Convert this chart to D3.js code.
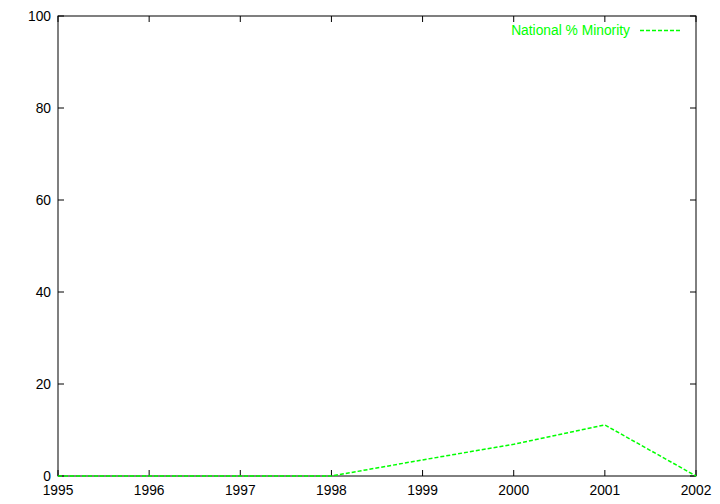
<!DOCTYPE html>
<html><head><meta charset="utf-8">
<script src="https://cdn.jsdelivr.net/npm/d3@7"></script>
<style>body{margin:0;background:#fff}svg{display:block}text{font-family:"Liberation Sans",Arial,Helvetica,sans-serif;font-size:13.8px;fill:#000}</style>
</head><body>
<script>
const years = [1995, 1996, 1997, 1998, 1999, 2000, 2001, 2002];
const minority = [0, 0, 0, 0, 3.5, 6.9, 11.1, 0];
const yTicks = [0, 20, 40, 60, 80, 100];
const seriesName = "National % Minority";

const W = 720, H = 504;
const m = {l: 58, r: 24, t: 16, b: 28};
const svg = d3.select("body").append("svg").attr("width", W).attr("height", H);
const x = d3.scaleLinear().domain([1995, 2002]).range([m.l, W - m.r]);
const y = d3.scaleLinear().domain([0, 100]).range([H - m.b, m.t]);

const g = svg.append("g");
const tl = 6;
years.forEach(v => {
  g.append("line").attr("x1", x(v)).attr("x2", x(v)).attr("y1", y(0)).attr("y2", y(0) - tl).attr("stroke", "#000");
  g.append("line").attr("x1", x(v)).attr("x2", x(v)).attr("y1", y(100)).attr("y2", y(100) + tl).attr("stroke", "#000");
  g.append("text").attr("x", x(v)).attr("y", y(0) + 19).attr("text-anchor", "middle").text(v);
});
yTicks.forEach(v => {
  g.append("line").attr("x1", x(1995)).attr("x2", x(1995) + tl).attr("y1", y(v)).attr("y2", y(v)).attr("stroke", "#000");
  g.append("line").attr("x1", x(2002)).attr("x2", x(2002) - tl).attr("y1", y(v)).attr("y2", y(v)).attr("stroke", "#000");
  g.append("text").attr("x", x(1995) - 7).attr("y", y(v) + 5).attr("text-anchor", "end").text(v);
});
g.append("rect").attr("x", x(1995)).attr("y", y(100)).attr("width", x(2002) - x(1995)).attr("height", y(0) - y(100))
  .attr("fill", "none").attr("stroke", "#000").attr("stroke-width", 1);

const line = d3.line().x((d, i) => x(years[i])).y(d => y(d));
svg.append("path").datum(minority).attr("d", line).attr("fill", "none")
  .attr("stroke", "#00ff00").attr("stroke-width", 1.5).attr("stroke-dasharray", "4,2");

svg.append("text").attr("x", 630).attr("y", 35).attr("text-anchor", "end").style("fill", "#00ff00").text(seriesName);
svg.append("line").attr("x1", 640).attr("x2", 680).attr("y1", 30.5).attr("y2", 30.5)
  .attr("stroke", "#00ff00").attr("stroke-width", 1.5).attr("stroke-dasharray", "4,2");
</script>
</body></html>
